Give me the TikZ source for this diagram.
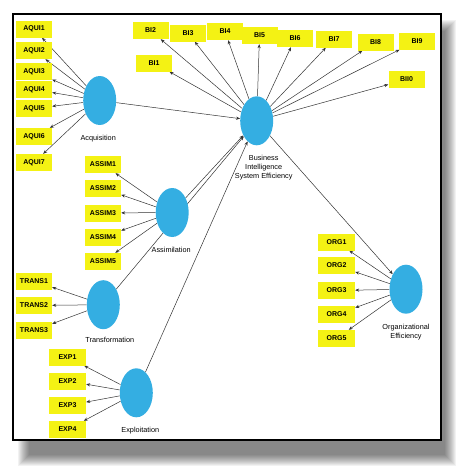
\documentclass[tikz,border=0pt]{standalone}
\usepackage{fontspec}
\setmainfont{Liberation Sans}
\usetikzlibrary{positioning,shapes.geometric,arrows.meta,backgrounds}
\definecolor{boxyellow}{RGB}{244,242,20}
\definecolor{latblue}{RGB}{52,174,226}
\begin{document}
\begin{tikzpicture}[x=1pt,y=-1pt,
    ind/.style={fill=boxyellow,minimum width=36pt,minimum height=17pt,inner sep=0pt,font=\fontsize{7}{9}\selectfont\bfseries},
    lat/.style={ellipse,fill=latblue,minimum width=33pt,minimum height=49pt,inner sep=0pt},
    latlabel/.style={inner sep=0pt,align=center,font=\fontsize{7.3}{9}\selectfont},
    link/.style={->,>={Stealth[length=4pt,width=3.2pt]},draw=black!80,line width=.5pt}]
  \useasboundingbox (0,0) rectangle (474,474);
  % frame and its shadow
  \begin{scope}[on background layer]
    \foreach \k in {0,...,11}
      \fill[black,opacity=.05] (18+\k,20+\k) rectangle (456-\k,466-\k);
    \fill[white] (13,14) rectangle (441,440);
  \end{scope}
  % constructs
  \node[lat] (acq) at (99.7,100.5) {};
  \node[lat] (bi) at (256.7,120.8) {};
  \node[lat] (assim) at (172.2,212.5) {};
  \node[lat] (trans) at (103.3,304.7) {};
  \node[lat] (exp) at (136.3,392.8) {};
  \node[lat] (org) at (406,289.2) {};
  \node[latlabel,below=10pt of acq,xshift=-1.5pt] {Acquisition};
  \node[latlabel,below=10pt of bi,xshift=7pt] {Business\\Intelligence\\System Efficiency};
  \node[latlabel,below=10pt of assim,xshift=-1pt] {Assimilation};
  \node[latlabel,below=8pt of trans,xshift=6.5pt] {Transformation};
  \node[latlabel,below=10pt of exp,xshift=4pt] {Exploitation};
  \node[latlabel,below=10pt of org] {Organizational\\Efficiency};
  % indicators
  \foreach \i/\y in {1/29,2/50.5,3/71.5,4/89.5,5/108.5,6/136.5,7/162.5}
    \node[ind] (aqui\i) at (34,\y) {AQUI\i};
  \foreach \i/\x/\y in {1/154/63,2/150.5/30.5,3/188/33,4/225/31.5,5/259.5/35.5,
      6/295/38.5,7/334/39,8/375.5/42,9/417/41}
    \node[ind] (bi\i) at (\x,\y) {BI\i};
  \node[ind] (bi10) at (406.5,79.5) {BII0};
  \foreach \i/\y in {1/164.5,2/188.5,3/213,4/237,5/261.5}
    \node[ind] (assim\i) at (103,\y) {ASSIM\i};
  \foreach \i/\y in {1/281,2/305.5,3/330.5}
    \node[ind] (trans\i) at (34,\y) {TRANS\i};
  \foreach \i/\y in {1/357,2/381,3/405.5,4/429.5}
    \node[ind,minimum width=37pt] (exp\i) at (67.5,\y) {EXP\i};
  \foreach \i/\y in {1/242,2/265.5,3/290.5,4/314.5,5/338.5}
    \node[ind,minimum width=37pt] (org\i) at (336.5,\y) {ORG\i};
  % connectors
  \begin{scope}[on background layer]
    \foreach \i in {1,...,7} \draw[link] (acq) -- (aqui\i);
    \foreach \i in {1,...,10} \draw[link] (bi) -- (bi\i);
    \foreach \i in {1,...,5} \draw[link] (assim) -- (assim\i);
    \foreach \i in {1,...,3} \draw[link] (trans) -- (trans\i);
    \foreach \i in {1,...,4} \draw[link] (exp) -- (exp\i);
    \foreach \i in {1,...,5} \draw[link] (org) -- (org\i);
    \draw[link] (acq) -- (bi);
    \draw[link] (assim) -- (bi);
    \draw[link] (trans) -- (bi);
    \draw[link] (exp) -- (bi);
    \draw[link] (bi) -- (org);
  \end{scope}
  \draw[line width=2.4pt] (13,14) rectangle (441,440);
\end{tikzpicture}
\end{document}
